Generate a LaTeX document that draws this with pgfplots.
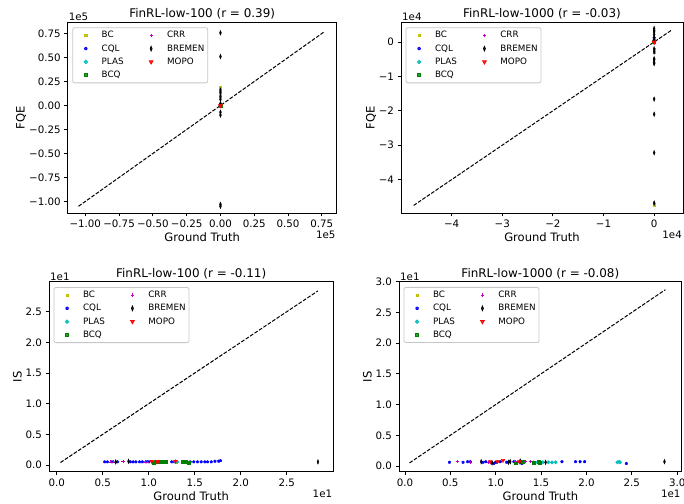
\documentclass[border=0pt]{standalone}
\usepackage{fontspec}
\setmainfont{DejaVu Sans}
\usepackage{pgfplots}
\pgfplotsset{compat=1.18}
\definecolor{cbc}{rgb}{0.75,0.75,0}
\definecolor{ccql}{rgb}{0,0,1}
\definecolor{cplas}{rgb}{0,0.75,0.75}
\definecolor{cbcq}{rgb}{0,0.5,0}
\definecolor{ccrr}{rgb}{0.75,0,0.75}
\definecolor{cbrem}{rgb}{0,0,0}
\definecolor{cmopo}{rgb}{1,0,0}
\newcommand{\tickfont}{\fontsize{10.3}{12}\selectfont}
\newcommand{\labfont}{\fontsize{11.6}{14}\selectfont}
\pgfplotsset{
 sBC/.style={only marks, mark=square*, mark size=1.1bp, color=cbc},
 sCQL/.style={only marks, mark=pentagon*, mark size=1.4bp, color=ccql},
 sPLAS/.style={only marks, mark=*, mark size=1.7bp, color=cplas},
 sBCQ/.style={only marks, mark=square*, mark size=1.5bp, color=cbcq},
 sCRR/.style={only marks, mark=+, mark size=1.6bp, color=ccrr, mark options={line width=0.7bp}},
 sBREM/.style={only marks, mark=diamond*, mark size=2.3bp, color=cbrem, mark options={xscale=0.55}},
 sMOPO/.style={only marks, mark=triangle*, mark size=2.1bp, color=cmopo, mark options={rotate=180}},
 diag/.style={black, line width=1bp, dash pattern=on 3.7bp off 1.6bp, forget plot},
 panel/.style={
   scale only axis, clip=false,
   axis line style={line width=0.8bp},
   tick align=outside, tick pos=left,
   major tick length=3.5bp,
   every tick/.style={black, line width=0.8bp},
   tick label style={font=\tickfont},
   label style={font=\labfont},
   xlabel style={yshift=1.5bp},
   title style={font=\fontsize{12}{14}\selectfont, yshift=-7bp},
   xlabel={Ground Truth},
   legend columns=2,
   legend cell align=left,
   legend image code/.code={\path (-9.3bp,0bp) (15.5bp,0bp); \draw plot coordinates {(0bp,0bp)};},
   legend style={at={(0,1)}, anchor=north west, xshift=4.6bp, yshift=-5.3bp,
     font=\fontsize{8.8}{10.5}\selectfont, draw=black!22, line width=0.8bp, rounded corners=2bp,
     fill=white, fill opacity=0.8, text opacity=1, row sep=0bp,
     inner xsep=3.4bp, inner ysep=1bp,
     nodes={inner sep=0bp, minimum height=13.3bp},
     /tikz/every even column/.append style={column sep=17.8bp}},
 },
}
\newcommand{\mylegend}{%
\addlegendimage{sBC}\addlegendentry{BC}
\addlegendimage{sCRR}\addlegendentry{CRR}
\addlegendimage{sCQL}\addlegendentry{CQL}
\addlegendimage{sBREM}\addlegendentry{BREMEN}
\addlegendimage{sPLAS}\addlegendentry{PLAS}
\addlegendimage{sMOPO}\addlegendentry{MOPO}
\addlegendimage{sBCQ}\addlegendentry{BCQ}
}
\begin{document}
\begin{tikzpicture}
\path[use as bounding box] (0,0) rectangle (684bp,504bp);
% ---------------- top left ----------------
\begin{axis}[panel, at={(67.7bp,291bp)}, anchor=south west, width=269bp, height=191bp,
  title={FinRL-low-100 (r = 0.39)},
  xmin=-1.13, xmax=0.86, ymin=-1.12, ymax=0.87,
  xtick={-1,-0.75,-0.5,-0.25,0,0.25,0.5,0.75},
  xticklabels={−1.00,−0.75,−0.50,−0.25,0.00,0.25,0.50,0.75},
  ytick={-1,-0.75,-0.5,-0.25,0,0.25,0.5,0.75},
  yticklabels={−1.00,−0.75,−0.50,−0.25,0.00,0.25,0.50,0.75}]
\mylegend
\addplot[diag] coordinates {(-1.05,-1.05) (0.77,0.77)};
\addplot[sBC, forget plot] coordinates {(0,0.19) (0,0.12) (0,0.01)};
\addplot[sCQL, forget plot] coordinates {(0,0.01) (0,0.0)};
\addplot[sPLAS, forget plot] coordinates {(0,0.0)};
\addplot[sBCQ, forget plot] coordinates {(0,0.0)};
\addplot[sCRR, forget plot] coordinates {(0,0.0)};
\addplot[sBREM, forget plot] coordinates {(0,0.757) (0,0.51) (0,0.16) (0,0.137) (0,0.09) (0,0.064) (0,0.02) (0,-0.07) (0,-0.10) (0,-1.03) (0,-1.05)};
\addplot[sMOPO, forget plot] coordinates {(0,0.0) (0,-0.005)};
\node[anchor=south west, font=\tickfont, inner sep=1bp] at (rel axis cs:0,1) {1e5};
\node[anchor=north east, font=\tickfont, inner sep=1bp] at ([yshift=-17bp]rel axis cs:1,0) {1e5};
\node[rotate=90, anchor=center, font=\labfont, inner sep=0bp] at ([xshift=-46.7bp]rel axis cs:0,0.5) {FQE};
\end{axis}
% ---------------- top right ----------------
\begin{axis}[panel, at={(401bp,291bp)}, anchor=south west, width=282bp, height=191bp,
  title={FinRL-low-1000 (r = -0.03)},
  xmin=-5.0, xmax=0.57, ymin=-4.97, ymax=0.58,
  xtick={-4,-3,-2,-1,0}, xticklabels={−4,−3,−2,−1,0},
  ytick={-4,-3,-2,-1,0}, yticklabels={−4,−3,−2,−1,0}]
\mylegend
\addplot[diag] coordinates {(-4.75,-4.75) (0.35,0.35)};
\addplot[sBC, forget plot] coordinates {(0,-0.2) (0,-0.25) (0,-0.3) (0,-4.73)};
\addplot[sCQL, forget plot] coordinates {(0,0.12) (0,0.05)};
\addplot[sPLAS, forget plot] coordinates {(0,0.0)};
\addplot[sBCQ, forget plot] coordinates {(0,0.0)};
\addplot[sCRR, forget plot] coordinates {(0,0.0)};
\addplot[sBREM, forget plot] coordinates {(0,0.39) (0,0.33) (0,0.29) (0,0.21) (0,0.12) (0,0.05) (0,-0.2) (0,-0.29) (0,-0.49) (0,-0.52) (0,-0.59) (0,-0.63) (0,-1.66) (0,-2.10) (0,-3.22) (0,-4.68)};
\addplot[sMOPO, forget plot] coordinates {(0,0.0) (0,-0.02)};
\node[anchor=south west, font=\tickfont, inner sep=1bp] at (rel axis cs:0,1) {1e4};
\node[anchor=north east, font=\tickfont, inner sep=1bp] at ([yshift=-17bp]rel axis cs:1,0) {1e4};
\node[rotate=90, anchor=center, font=\labfont, inner sep=0bp] at ([xshift=-30bp]rel axis cs:0,0.5) {FQE};
\end{axis}
% ---------------- bottom left ----------------
\begin{axis}[panel, at={(49bp,32.3bp)}, anchor=south west, width=284.3bp, height=190bp,
  title={FinRL-low-100 (r = -0.11)},
  xmin=-0.085, xmax=3.007, ymin=-0.11, ymax=2.99,
  xtick={0,0.5,1,1.5,2,2.5}, xticklabels={0.0,0.5,1.0,1.5,2.0,2.5},
  ytick={0,0.5,1,1.5,2,2.5}, yticklabels={0.0,0.5,1.0,1.5,2.0,2.5}]
\mylegend
\addplot[diag] coordinates {(0.04,0.04) (2.84,2.84)};
\addplot[sBC, forget plot] coordinates {(1.06,0.05) (1.30,0.05)};
\addplot[sCQL, forget plot] coordinates {(0.52,0.05) (0.55,0.05) (0.60,0.05) (0.66,0.05) (0.80,0.05) (0.83,0.05) (0.86,0.05) (0.90,0.05) (0.93,0.05) (0.97,0.05) (1.00,0.05) (1.13,0.05) (1.25,0.05) (1.28,0.05) (1.45,0.05) (1.49,0.05) (1.53,0.05) (1.57,0.05) (1.61,0.05) (1.64,0.05) (1.68,0.05) (1.72,0.06) (1.76,0.06) (1.78,0.07)};
\addplot[sPLAS, forget plot] coordinates {(1.29,0.06) (1.31,0.05)};
\addplot[sBCQ, forget plot] coordinates {(1.05,0.03) (1.08,0.05) (1.12,0.05) (1.15,0.06) (1.18,0.06) (1.37,0.06) (1.40,0.05) (1.43,0.03)};
\addplot[sCRR, forget plot] coordinates {(0.58,0.05) (0.61,0.05) (0.72,0.06) (0.96,0.05) (0.99,0.05)};
\addplot[sBREM, forget plot] coordinates {(0.64,0.05) (0.78,0.06) (2.84,0.05)};
\addplot[sMOPO, forget plot] coordinates {(1.03,0.06) (1.09,0.05) (1.10,0.06) (1.29,0.06)};
\node[anchor=south west, font=\tickfont, inner sep=1bp] at (rel axis cs:0,1) {1e1};
\node[anchor=north east, font=\tickfont, inner sep=1bp] at ([yshift=-17bp]rel axis cs:1,0) {1e1};
\node[rotate=90, anchor=center, font=\labfont, inner sep=0bp] at ([xshift=-31.5bp]rel axis cs:0,0.5) {IS};
\end{axis}
% ---------------- bottom right ----------------
\begin{axis}[panel, at={(399bp,32.3bp)}, anchor=south west, width=282.7bp, height=190bp,
  title={FinRL-low-1000 (r = -0.08)},
  xmin=-0.066, xmax=3.05, ymin=-0.093, ymax=3.0,
  xtick={0,0.5,1,1.5,2,2.5,3}, xticklabels={0.0,0.5,1.0,1.5,2.0,2.5,3.0},
  ytick={0,0.5,1,1.5,2,2.5,3}, yticklabels={0.0,0.5,1.0,1.5,2.0,2.5,3.0}]
\mylegend
\addplot[diag] coordinates {(0.05,0.05) (2.87,2.87)};
\addplot[sBC, forget plot] coordinates {(1.00,0.06) (1.30,0.06)};
\addplot[sCQL, forget plot] coordinates {(0.49,0.06) (0.64,0.06) (0.69,0.07) (0.72,0.07) (0.86,0.06) (0.89,0.07) (0.95,0.05) (0.98,0.04) (1.00,0.06) (1.05,0.07) (1.12,0.06) (1.20,0.07) (1.27,0.05) (1.29,0.04) (1.31,0.06) (1.42,0.06) (1.47,0.07) (1.73,0.07) (1.88,0.07) (1.93,0.07) (1.98,0.07) (2.44,0.04)};
\addplot[sPLAS, forget plot] coordinates {(1.46,0.06) (1.52,0.06) (1.58,0.06) (1.62,0.06) (1.66,0.06) (2.34,0.06) (2.36,0.07) (2.37,0.06)};
\addplot[sBCQ, forget plot] coordinates {(1.22,0.06) (1.27,0.07) (1.30,0.07) (1.42,0.06) (1.47,0.07) (1.49,0.06)};
\addplot[sCRR, forget plot] coordinates {(0.58,0.07) (0.72,0.06) (0.92,0.06) (1.02,0.07) (1.15,0.07) (1.22,0.07) (1.33,0.07) (1.38,0.07)};
\addplot[sBREM, forget plot] coordinates {(0.84,0.07) (0.96,0.05) (1.14,0.06) (1.16,0.07) (1.27,0.08) (1.55,0.06) (2.86,0.07)};
\addplot[sMOPO, forget plot] coordinates {(0.94,0.07) (1.02,0.07) (1.08,0.09) (1.26,0.07)};
\node[anchor=south west, font=\tickfont, inner sep=1bp] at (rel axis cs:0,1) {1e1};
\node[anchor=north east, font=\tickfont, inner sep=1bp] at ([yshift=-17bp]rel axis cs:1,0) {1e1};
\node[rotate=90, anchor=center, font=\labfont, inner sep=0bp] at ([xshift=-31.5bp]rel axis cs:0,0.5) {IS};
\end{axis}
\end{tikzpicture}
\end{document}
